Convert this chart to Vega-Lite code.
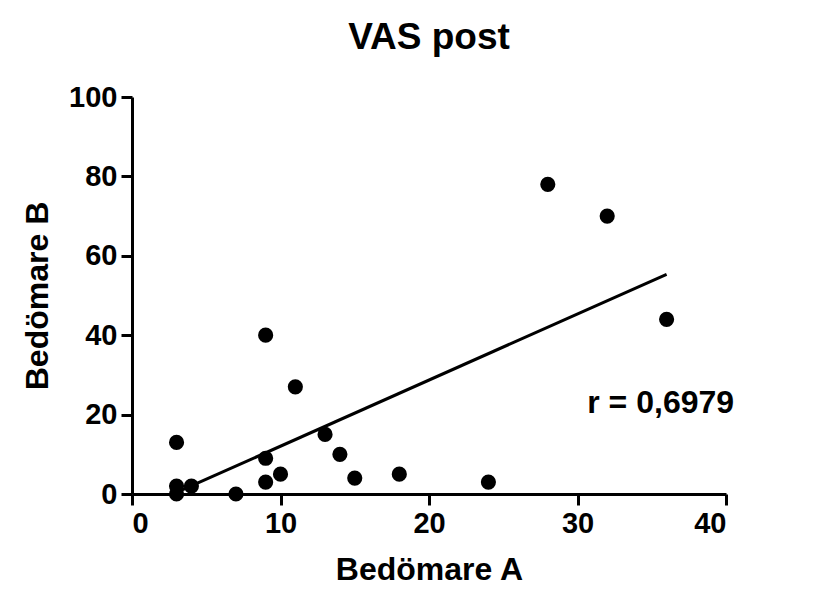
{
  "$schema": "https://vega.github.io/schema/vega-lite/v6.json",
  "width": 594,
  "height": 397,
  "autosize": {"type": "none"},
  "padding": {"left": 132, "top": 97, "right": 104, "bottom": 115},
  "background": "white",
  "title": {
    "text": "VAS post",
    "font": "Liberation Sans",
    "fontSize": 37,
    "fontWeight": "bold",
    "color": "black",
    "anchor": "middle",
    "offset": 26
  },
  "data": {
    "values": [
      {"A": 3, "B": 13},
      {"A": 3, "B": 2},
      {"A": 3, "B": 0},
      {"A": 4, "B": 2},
      {"A": 7, "B": 0},
      {"A": 9, "B": 40},
      {"A": 9, "B": 9},
      {"A": 9, "B": 3},
      {"A": 10, "B": 5},
      {"A": 11, "B": 27},
      {"A": 13, "B": 15},
      {"A": 14, "B": 10},
      {"A": 15, "B": 4},
      {"A": 18, "B": 5},
      {"A": 24, "B": 3},
      {"A": 28, "B": 78},
      {"A": 32, "B": 70},
      {"A": 36, "B": 44}
    ]
  },
  "layer": [
    {
      "mark": {"type": "circle", "size": 230, "color": "black", "opacity": 1, "clip": false},
      "encoding": {
        "x": {
          "field": "A",
          "type": "quantitative",
          "scale": {"domain": [0, 40], "nice": false, "zero": true},
          "axis": {
            "title": "Bedömare A",
            "values": [0, 10, 20, 30, 40],
            "grid": false,
            "domainColor": "black",
            "domainWidth": 3,
            "tickColor": "black",
            "tickWidth": 3,
            "tickSize": 11,
            "labelFont": "Liberation Sans",
            "labelFontSize": 29,
            "labelFontWeight": "bold",
            "labelColor": "black",
            "labelPadding": 4,
            "titleFont": "Liberation Sans",
            "titleFontSize": 32,
            "titleFontWeight": "bold",
            "titleColor": "black",
            "titlePadding": 16
          }
        },
        "y": {
          "field": "B",
          "type": "quantitative",
          "scale": {"domain": [0, 100], "nice": false, "zero": true},
          "axis": {
            "title": "Bedömare B",
            "values": [0, 20, 40, 60, 80, 100],
            "grid": false,
            "domainColor": "black",
            "domainWidth": 3,
            "tickColor": "black",
            "tickWidth": 3,
            "tickSize": 11,
            "labelFont": "Liberation Sans",
            "labelFontSize": 29,
            "labelFontWeight": "bold",
            "labelColor": "black",
            "labelPadding": 4,
            "titleFont": "Liberation Sans",
            "titleFontSize": 32,
            "titleFontWeight": "bold",
            "titleColor": "black",
            "titlePadding": 14
          }
        }
      }
    },
    {
      "transform": [{"regression": "B", "on": "A", "extent": [3, 36]}],
      "mark": {"type": "line", "color": "black", "strokeWidth": 3},
      "encoding": {
        "x": {"field": "A", "type": "quantitative"},
        "y": {"field": "B", "type": "quantitative"}
      }
    },
    {
      "data": {"values": [{"label": "r = 0,6979"}]},
      "mark": {"type": "text", "font": "Liberation Sans", "fontSize": 32, "fontWeight": "bold", "color": "black", "align": "center", "baseline": "middle"},
      "encoding": {
        "text": {"field": "label", "type": "nominal"},
        "x": {"datum": 35.6, "type": "quantitative"},
        "y": {"datum": 23, "type": "quantitative"}
      }
    }
  ],
  "config": {"view": {"stroke": null}}
}
